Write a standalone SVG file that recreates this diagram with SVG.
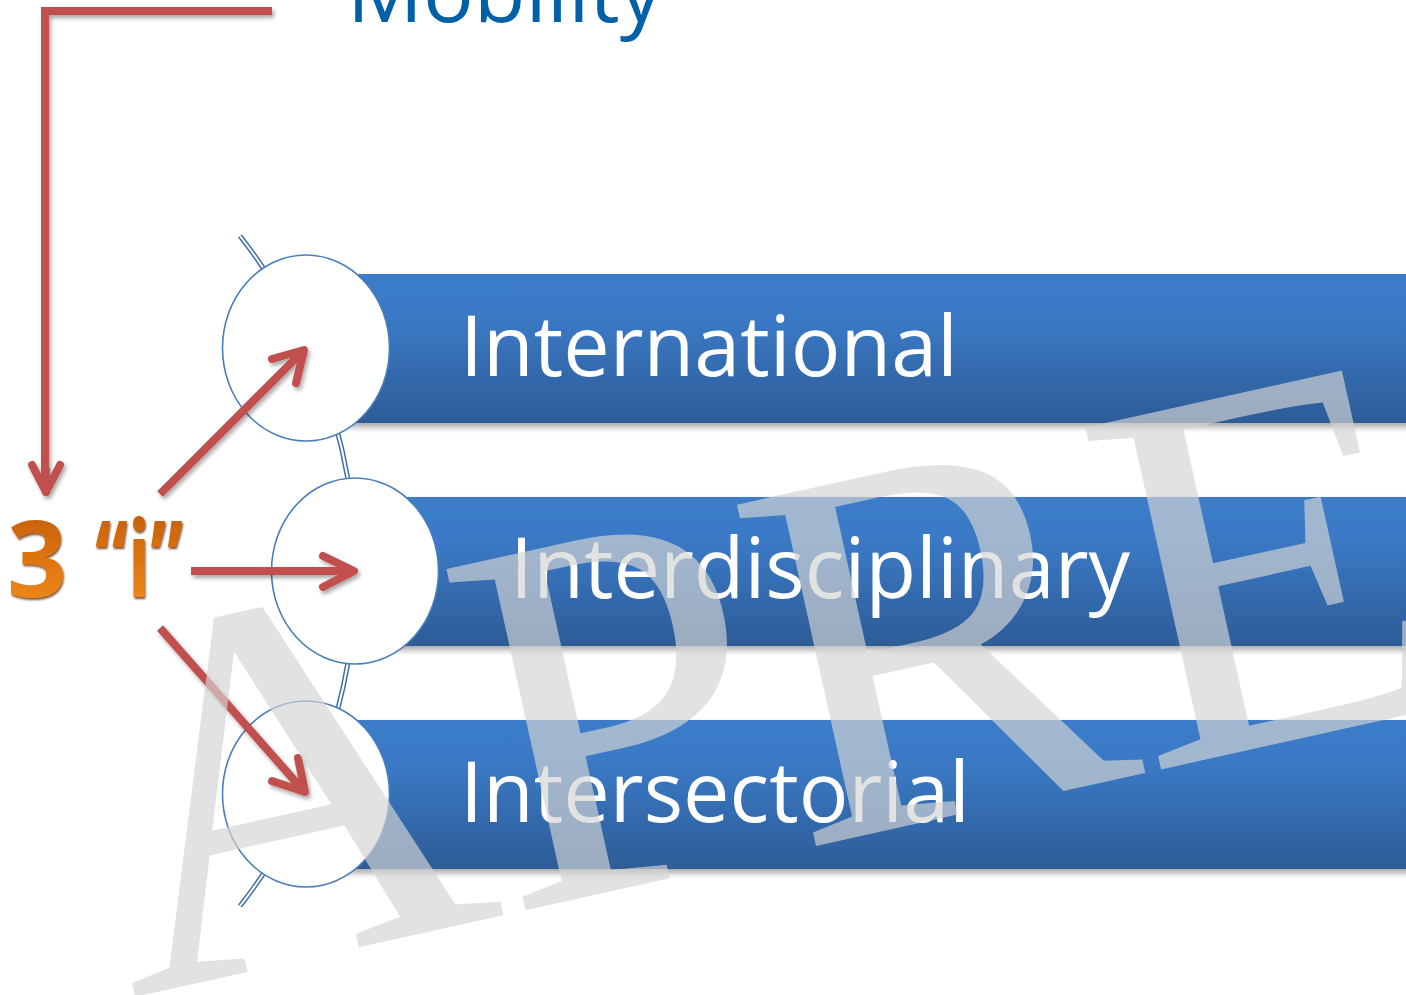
<svg xmlns="http://www.w3.org/2000/svg" width="1406" height="995" viewBox="0 0 1406 995">
  <defs>
    <linearGradient id="barGrad" x1="0" y1="0" x2="0" y2="1">
      <stop offset="0" stop-color="#3C7CC9"/>
      <stop offset="0.3" stop-color="#3A79C5"/>
      <stop offset="1" stop-color="#2D5C97"/>
    </linearGradient>
    <linearGradient id="orangeGrad" x1="0" y1="0" x2="0" y2="1">
      <stop offset="0" stop-color="#B65200"/>
      <stop offset="0.5" stop-color="#DD7410"/>
      <stop offset="1" stop-color="#F7931E"/>
    </linearGradient>
    <filter id="barShadow" x="-5%" y="-10%" width="110%" height="130%">
      <feDropShadow dx="0" dy="4" stdDeviation="3" flood-color="#000" flood-opacity="0.35"/>
    </filter>
    <filter id="arrowShadow" x="-20%" y="-20%" width="140%" height="140%">
      <feDropShadow dx="2" dy="3" stdDeviation="2" flood-color="#000" flood-opacity="0.35"/>
    </filter>
    <filter id="textBevel" x="-10%" y="-10%" width="120%" height="130%">
      <feDropShadow dx="1" dy="2" stdDeviation="1" flood-color="#5A2600" flood-opacity="0.8"/>
    </filter>
  </defs>
  <style>
    .bar { fill: url(#barGrad); filter: url(#barShadow); }
    .node { fill: #FFFFFF; stroke: #4A7EBB; stroke-width: 1.6; }
    .label { font-family: "Open Sans", "Noto Sans", "Liberation Sans", sans-serif; font-size: 84px; fill: #FFFFFF; }
    .red { fill: none; stroke: #C0504D; stroke-width: 8; }
    .head { fill: none; stroke: #C0504D; stroke-width: 8; stroke-linecap: round; stroke-linejoin: round; }
  </style>
  <rect width="1406" height="995" fill="#FFFFFF"/>

  <!-- title -->
  <text id="title" x="347" y="22" font-family="'Open Sans', 'Noto Sans', sans-serif" font-size="84" fill="#0060A8" textLength="315" lengthAdjust="spacingAndGlyphs">Mobility</text>

  <!-- connecting double arc -->
  <g id="arc">
    <path d="M240,236 A543,543 0 0 1 240,906" fill="none" stroke="#3F6FA8" stroke-width="5"/>
    <path d="M240,236 A543,543 0 0 1 240,906" fill="none" stroke="#FFFFFF" stroke-width="2"/>
  </g>

  <!-- node: International -->
  <g id="node-international">
    <rect class="bar" x="306" y="274" width="1110" height="149"/>
    <ellipse class="node" cx="306" cy="348" rx="83.5" ry="93"/>
    <text class="label" x="460" y="376" textLength="498" lengthAdjust="spacingAndGlyphs">International</text>
  </g>

  <!-- node: Interdisciplinary -->
  <g id="node-interdisciplinary">
    <rect class="bar" x="355" y="497" width="1061" height="149"/>
    <ellipse class="node" cx="355" cy="571" rx="83.5" ry="93"/>
    <text class="label" x="510" y="598" textLength="620" lengthAdjust="spacingAndGlyphs">Interdisciplinary</text>
  </g>

  <!-- node: Intersectorial -->
  <g id="node-intersectorial">
    <rect class="bar" x="306" y="720" width="1110" height="149"/>
    <ellipse class="node" cx="306" cy="794" rx="83.5" ry="93"/>
    <text class="label" x="460" y="822" textLength="510" lengthAdjust="spacingAndGlyphs">Intersectorial</text>
  </g>

  <!-- node: 3 "i" -->
  <g id="node-3i" filter="url(#textBevel)" font-family="'Open Sans', 'Noto Sans', 'Liberation Sans', sans-serif" font-weight="bold" font-size="105" fill="url(#orangeGrad)">
    <text x="7" y="597">3</text>
    <text x="95" y="597" textLength="88" lengthAdjust="spacingAndGlyphs">“i”</text>
  </g>

  <!-- connectors -->
  <g id="connectors" filter="url(#arrowShadow)">
    <polyline class="red" points="272,11 45,11 45,488"/>
    <polyline class="head" points="32,465 46,492 60,465"/>
    <path class="head" d="M46,492 L46,470"/>

    <line class="red" x1="160" y1="494" x2="302" y2="352"/>
    <polyline class="head" points="272,359 304,350 296,383"/>

    <line class="red" x1="191" y1="571" x2="351" y2="571"/>
    <polyline class="head" points="323,556 354,571 323,587"/>

    <line class="red" x1="160" y1="628" x2="302" y2="789"/>
    <polyline class="head" points="272,781 305,792 298,758"/>
  </g>

  <!-- watermark -->
  <g id="watermark" opacity="0.67">
    <text transform="translate(130,998) rotate(-12.5)" font-family="'Liberation Serif', 'Times New Roman', serif" font-size="535" fill="#D4D4D4">APRE</text>
  </g>
</svg>
